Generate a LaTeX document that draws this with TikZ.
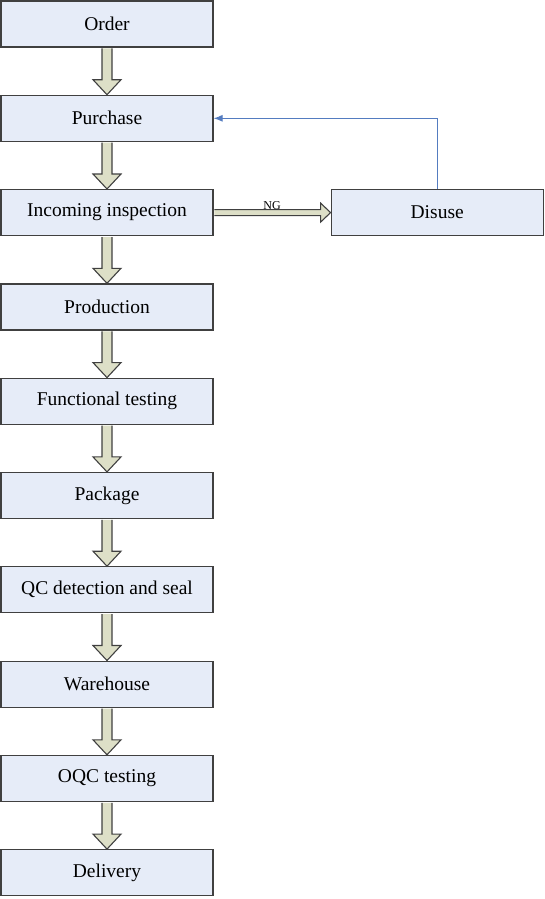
\documentclass[tikz,border=0pt]{standalone}
\usepackage{fontspec}
\setmainfont{Liberation Serif}
\usetikzlibrary{positioning}
\usetikzlibrary{calc}
\usetikzlibrary{arrows.meta}

\definecolor{boxblue}{RGB}{230,236,248}
\definecolor{arrowfill}{RGB}{221,223,199}
\definecolor{boxline}{RGB}{64,64,64}
\definecolor{feedblue}{RGB}{84,124,192}

% fat arrow from the bottom of #1 down to the top of #2
\newcommand{\fatarrow}[2]{%
  \draw[fatarrow] ($(#1.south)+(-5pt,-0.8pt)$) -- ($(#2.north)+(-5pt,15pt)$) -- ($(#2.north)+(-14pt,15pt)$) -- (#2.north)
    -- ($(#2.north)+(14pt,15pt)$) -- ($(#2.north)+(5pt,15pt)$) -- ($(#1.south)+(5pt,-0.8pt)$);}

\begin{document}
\begin{tikzpicture}[
                stepbox/.style={rectangle, draw=boxline, fill=boxblue, line width=1.2pt, minimum width=212pt, minimum height=46pt, inner sep=0pt, font=\fontsize{19.5}{22}\selectfont},
                fatarrow/.style={draw=boxline, fill=arrowfill, line width=1.1pt, line join=miter},
                feedback/.style={draw=feedblue, line width=1pt, -{Latex[length=9pt,width=7pt]}},
                nglabel/.style={inner sep=0pt, font=\fontsize{12}{14}\selectfont},
                node distance=47.1pt,
            ]
            \useasboundingbox (0,0) rectangle (545pt,-899pt);

            % Nodes
            \node[stepbox]      (order)      at (107pt,-24pt)          {Order};
            \node[stepbox]      (purchase)   [below=of order]          {Purchase};
            \node[stepbox]      (incoming)   [below=of purchase]       {Incoming inspection};
            \node[stepbox]      (production) [below=of incoming]       {Production};
            \node[stepbox]      (functional) [below=of production]     {Functional testing};
            \node[stepbox]      (package)    [below=of functional]     {Package};
            \node[stepbox]      (qc)         [below=of package]        {QC detection and seal};
            \node[stepbox]      (warehouse)  [below=of qc]             {Warehouse};
            \node[stepbox]      (oqc)        [below=of warehouse]      {OQC testing};
            \node[stepbox]      (delivery)   [below=of oqc]            {Delivery};

            \node[stepbox]      (disuse)     [right=117pt of incoming] {Disuse};

            %Lines
            \fatarrow{order}{purchase}
            \fatarrow{purchase}{incoming}
            \fatarrow{incoming}{production}
            \fatarrow{production}{functional}
            \fatarrow{functional}{package}
            \fatarrow{package}{qc}
            \fatarrow{qc}{warehouse}
            \fatarrow{warehouse}{oqc}
            \fatarrow{oqc}{delivery}

            \draw[fatarrow] ($(incoming.east)+(0.8pt,3pt)$) -- ($(disuse.west)+(-10pt,3pt)$) -- ($(disuse.west)+(-10pt,9.5pt)$) -- (disuse.west)
                -- ($(disuse.west)+(-10pt,-9.5pt)$) -- ($(disuse.west)+(-10pt,-3pt)$) -- ($(incoming.east)+(0.8pt,-3pt)$);
            \node[nglabel]      (ng)         at ($(incoming.east)!0.5!(disuse.west)+(0,7.5pt)$) {NG};

            \draw[feedback] (disuse.north) |- (purchase.east);
        \end{tikzpicture}
\end{document}
